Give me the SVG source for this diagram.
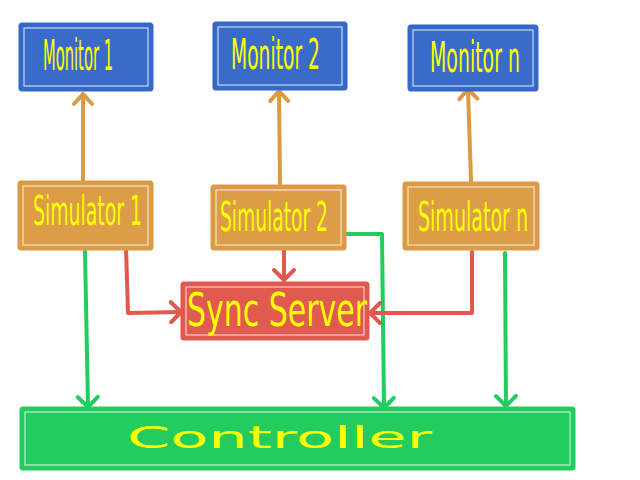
<svg xmlns="http://www.w3.org/2000/svg" width="640" height="480" viewBox="0 0 640 480">
<style>
.box{stroke-width:3;stroke-linejoin:round}
.inner{fill:none;stroke:#ffffff;stroke-width:1;opacity:0.85}
.mon{fill:#3b6bc9;stroke:#3466cc}
.sim{fill:#dc9c48;stroke:#dc9a45}
.sync{fill:#e05a50;stroke:#e0584e}
.ctl{fill:#22cc5e;stroke:#22cc5e}
.t{font-family:"DejaVu Sans",sans-serif;fill:#ffff00}
.c{fill:none;stroke-width:4;stroke-linecap:round;stroke-linejoin:round}
.o{stroke:#dc9a45}
.g{stroke:#22cc5e}
.r{stroke:#e0584e}
</style>
<defs>
<marker id="ao" markerUnits="userSpaceOnUse" markerWidth="30" markerHeight="30" refX="15" refY="15" orient="auto" overflow="visible"><path d="M5,6 L15,15 L5,24" fill="none" stroke="#dc9a45" stroke-width="4" stroke-linecap="round" stroke-linejoin="round"/></marker>
<marker id="ag" markerUnits="userSpaceOnUse" markerWidth="30" markerHeight="30" refX="15" refY="15" orient="auto" overflow="visible"><path d="M5,5 L15,15 L5,25" fill="none" stroke="#22cc5e" stroke-width="4" stroke-linecap="round" stroke-linejoin="round"/></marker>
<marker id="ar" markerUnits="userSpaceOnUse" markerWidth="30" markerHeight="30" refX="15" refY="15" orient="auto" overflow="visible"><path d="M5,5 L15,15 L5,25" fill="none" stroke="#e0584e" stroke-width="4" stroke-linecap="round" stroke-linejoin="round"/></marker>
</defs>
<rect width="640" height="480" fill="#ffffff"/>
<g id="connectors">
<path class="c o" d="M83,181 L83,94" marker-end="url(#ao)"/>
<path class="c o" d="M280,184 L279,91" marker-end="url(#ao)"/>
<path class="c o" d="M471,181 L468,89" marker-end="url(#ao)"/>
<path class="c g" d="M85,251 L88,407" marker-end="url(#ag)"/>
<path class="c g" d="M346,234 L382,234 L384,408" marker-end="url(#ag)"/>
<path class="c g" d="M505,253 L506,406" marker-end="url(#ag)"/>
<path class="c r" d="M126,248 L128,313 L181,312" marker-end="url(#ar)"/>
<path class="c r" d="M284,251 L284,280" marker-end="url(#ar)"/>
<path class="c r" d="M472,252 L472,313 L370,313" marker-end="url(#ar)"/>
</g>
<g id="monitor1"><rect class="box mon" x="20" y="24" width="132" height="66" rx="2"/><rect class="inner" x="24" y="28" width="124" height="58"/><text class="t" x="43" y="70" font-size="42" textLength="70" lengthAdjust="spacingAndGlyphs">Monitor 1</text></g>
<g id="monitor2"><rect class="box mon" x="214" y="23" width="132" height="66" rx="2"/><rect class="inner" x="218" y="27" width="124" height="58"/><text class="t" x="231" y="69" font-size="42" textLength="89" lengthAdjust="spacingAndGlyphs">Monitor 2</text></g>
<g id="monitorn"><rect class="box mon" x="409" y="26" width="128" height="64" rx="2"/><rect class="inner" x="413" y="30" width="120" height="56"/><text class="t" x="430" y="72" font-size="42" textLength="90" lengthAdjust="spacingAndGlyphs">Monitor n</text></g>
<g id="simulator1"><rect class="box sim" x="19" y="182" width="133" height="67" rx="2"/><rect class="inner" x="23" y="186" width="125" height="59"/><text class="t" x="33" y="225" font-size="40" textLength="109" lengthAdjust="spacingAndGlyphs">Simulator 1</text></g>
<g id="simulator2"><rect class="box sim" x="212" y="186" width="133" height="63" rx="2"/><rect class="inner" x="216" y="190" width="125" height="55"/><text class="t" x="220" y="231" font-size="40" textLength="108" lengthAdjust="spacingAndGlyphs">Simulator 2</text></g>
<g id="simulatorn"><rect class="box sim" x="404" y="183" width="134" height="66" rx="2"/><rect class="inner" x="408" y="187" width="126" height="58"/><text class="t" x="418" y="231" font-size="40" textLength="110" lengthAdjust="spacingAndGlyphs">Simulator n</text></g>
<g id="syncserver"><rect class="box sync" x="182" y="283" width="186" height="56" rx="2"/><rect class="inner" x="186" y="287" width="178" height="48"/><text class="t" x="187" y="326" font-size="46" textLength="180" lengthAdjust="spacingAndGlyphs">Sync Server</text></g>
<g id="controller"><rect class="box ctl" x="21" y="408" width="553" height="61" rx="2"/><rect class="inner" x="25" y="412" width="545" height="53"/><text class="t" x="127" y="448" font-size="31" textLength="305" lengthAdjust="spacingAndGlyphs">Controller</text></g>
</svg>
